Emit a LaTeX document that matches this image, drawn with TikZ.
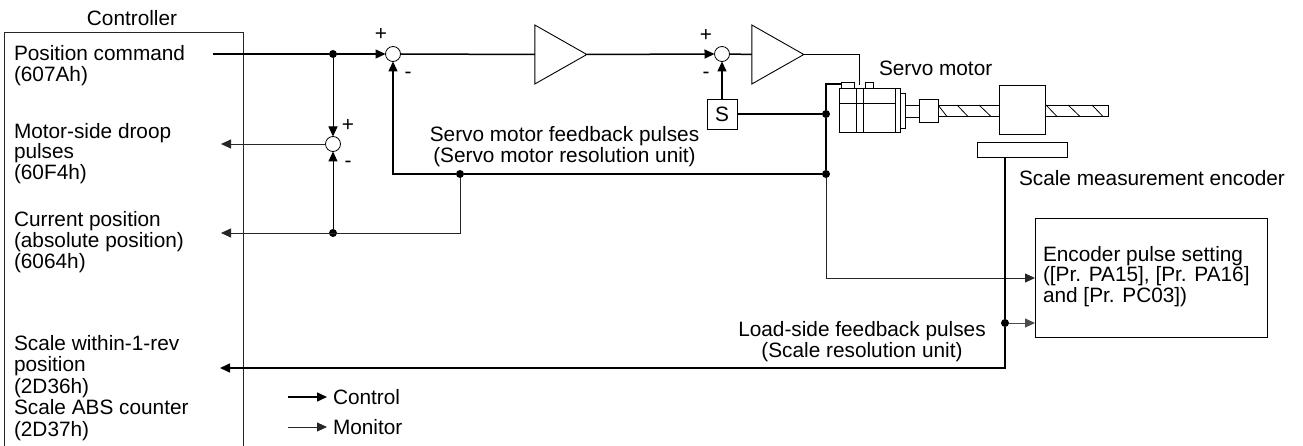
\documentclass[tikz,border=0pt]{standalone}
\usepackage{fontspec}
\setmainfont{Liberation Sans}
\usetikzlibrary{arrows.meta,shapes.geometric,calc}
\tikzset{
  x=1pt,y=-1pt,
  every node/.style={inner sep=0pt,outer sep=0pt,font=\fontsize{20.8}{20.8}\selectfont},
  txt/.style={align=left,anchor=west},
  ctxt/.style={align=center},
  thick line/.style={line width=1.5pt,-,draw=black},
  med line/.style={line width=1.0pt,draw=black},
  thin line/.style={line width=0.8pt,draw=black!85},
  tipped/.style={-{Triangle[length=10pt,width=9pt]}},
  sumpt/.style={circle,draw=black,line width=0.8pt,fill=white,minimum size=15pt},
  dotpt/.style={circle,fill=black,minimum size=8pt},
  amp/.style={isosceles triangle,isosceles triangle stretches,draw=black,line width=0.9pt,fill=white,minimum height=52pt,minimum width=59pt,shape border rotate=0},
  part/.style={draw=black,line width=0.9pt,fill=white},
  sign/.style={font=\fontsize{20.8}{21}\selectfont},
}
\begin{document}
\begin{tikzpicture}
\useasboundingbox (0,0) rectangle (1303,446);
% controller
\node[ctxt] (ctrl) at (132,18) {Controller};
\coordinate (boxTL) at (4.5,32); \coordinate (boxTR) at (243.5,32);
\coordinate (boxBL) at (4.5,446); \coordinate (boxBR) at (243.5,446);
\draw[line width=0.9pt,draw=black!85] (boxBL) -- (boxTL) -- (boxTR) -- (boxBR);
\node[txt] (t1) at (14,65.5) {Position command\\(607Ah)};
\node[txt] (t2) at (14,153.5) {Motor-side droop\\pulses\\(60F4h)};
\node[txt] (t3) at (14,242) {Current position\\(absolute position)\\(6064h)};
\node[txt,font=\fontsize{20.8}{21.5}\selectfont] (t4) at (14,388) {Scale within-1-rev\\position\\(2D36h)\\Scale ABS counter\\(2D37h)};
% points
\coordinate (start) at (213,54);
\node[dotpt] (j1) at (333,54) {};
\node[sumpt] (s1) at (393,54) {};
\node[amp] (a1) at (552,54.5) {};
\node[sumpt] (s2) at (722,54) {};
\node[amp] (a2) at (769,54.5) {};
\node[sumpt] (s3) at (333,144) {};
\node[dotpt] (j2) at (333,233) {};
\node[dotpt] (j3) at (460,174) {};
\node[dotpt] (j4) at (826,174) {};
\node[dotpt] (j5) at (826,114) {};
\node[dotpt] (j6) at (1005,323) {};
\node[draw=black,line width=0.9pt,minimum width=30pt,minimum height=30pt,fill=white] (S) at (722,114) {S};
\coordinate (o1) at (221,144);
\coordinate (o2) at (221,233);
\coordinate (o3) at (220,368);
% encoder box
\node[draw=black,line width=0.9pt,minimum width=232pt,minimum height=119pt] (enc) at (1151,277.5) {};
\node[txt] (enct) at (1043,276.5) {Encoder pulse setting\\([Pr. PA15], [Pr. PA16]\\and [Pr. PC03])};
% mechanics
\draw[part] (841,82) rectangle (854,88);
\draw[part] (865,82) rectangle (873,88);
\draw[part] (905,105) rectangle (919,117);
\draw[part] (938,105) rectangle (1108,116.5);
\foreach \a/\b in {938/947,957/968,979/991,1046/1057,1068/1080,1092/1103}
  \draw[line width=0.8pt] (\a,105) -- (\b,116.5);
\draw[part] (900,93) rectangle (905,128);
\draw[part] (839,88) rectangle (900,132);
\draw[line width=0.9pt] (839,103) -- (895,103);
\draw[line width=0.9pt] (856,88) -- (856,132);
\draw[line width=0.9pt] (863,88) -- (863,132);
\draw[line width=0.9pt] (895,88) -- (895,132);
\node[part,minimum width=19pt,minimum height=23pt] (coup) at (928.5,110.5) {};
\node[part,minimum width=46pt,minimum height=49pt] (load) at (1022,109.5) {};
\node[part,minimum width=90pt,minimum height=15pt] (scale) at (1022,149.5) {};
\coordinate (mTop) at (841,84);
\coordinate (mIn) at (859,85);
% connectors: control
\draw[thick line] (start) -- (j1);
\draw[thick line,tipped] (j1) -- (s1.west);
\draw[thick line] (s1.east) -- (a1.lower side);
\draw[thick line,tipped] (a1.apex) -- (s2.west);
\draw[thick line] (s2.east) -- (a2.lower side);
\draw[med line] (a2.apex) -| (mIn);
\draw[thick line,tipped] (S.north) -- (s2.south);
\draw[thick line] (S.east) -- (j5);
\draw[thick line] (mTop) -| (j5);
\draw[thick line] (j5) -- (j4);
\draw[thick line] (j4) -- (j3);
\draw[thick line,tipped] (j3) -| (s1.south);
\draw[med line,tipped] (j1) -- (s3.north);
\draw[med line,tipped] (j2) -- (s3.south);
% monitor
\draw[thin line,tipped] (s3.west) -- (o1);
\draw[thin line,tipped] (j3) |- (o2);
\draw[thin line,tipped] (j4) |- (enc.west |- 0,278);
\draw[thick line] (scale.south -| j6) -- (j6);
\draw[thick line,tipped] (j6) |- (o3);
\draw[med line,draw=black!70,tipped] (j6) -- (enc.west |- j6);
% signs
\node[sign] (p1) at (381,35) {+};
\node[sign] (m1) at (408,75) {-};
\node[sign] (p2) at (348,125) {+};
\node[sign] (m2) at (348,164) {-};
\node[sign] (p3) at (706,36) {+};
\node[sign] (m3) at (706,75) {-};
% labels
\node[ctxt] (l1) at (564.5,146.5) {Servo motor feedback pulses\\(Servo motor resolution unit)};
\node[ctxt] (l2) at (862,341.5) {Load-side feedback pulses\\(Scale resolution unit)};
\node[txt] (l3) at (879,68) {Servo motor};
\node[txt] (l4) at (1019,178) {Scale measurement encoder};
% legend
\coordinate (k1a) at (288,397); \coordinate (k1b) at (327,397);
\coordinate (k2a) at (288,427); \coordinate (k2b) at (327,427);
\draw[thick line,tipped] (k1a) -- (k1b);
\draw[thin line,tipped] (k2a) -- (k2b);
\node[txt] (k1) at (333,397) {Control};
\node[txt] (k2) at (333,427) {Monitor};
\end{tikzpicture}
\end{document}
